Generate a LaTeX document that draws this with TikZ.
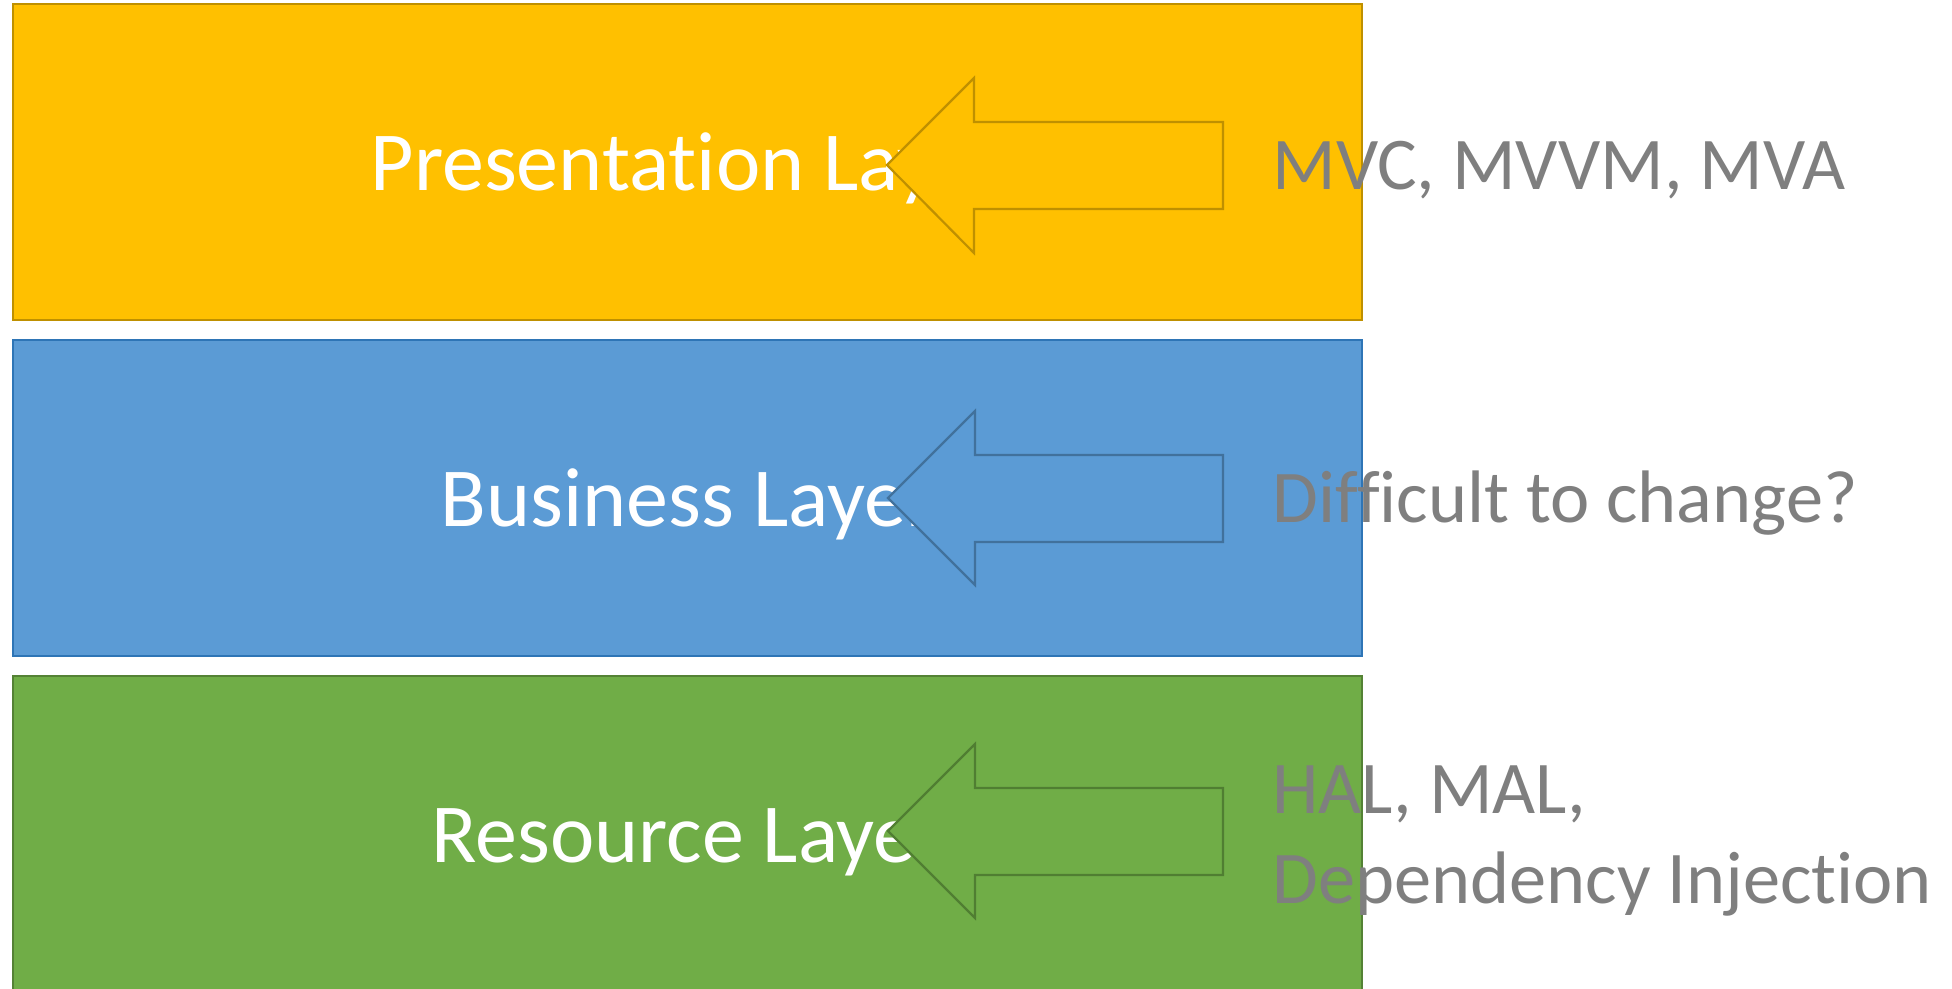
\documentclass[tikz,border=0pt]{standalone}
\usepackage{fontspec}
\setmainfont{Carlito}[Ligatures=NoCommon]
\definecolor{yfill}{HTML}{FFC000}
\definecolor{ydraw}{HTML}{BF9000}
\definecolor{bfill}{HTML}{5B9BD5}
\definecolor{bdraw}{HTML}{2E75B6}
\definecolor{barrow}{HTML}{41719C}
\definecolor{gfill}{HTML}{70AD47}
\definecolor{gdraw}{HTML}{548235}
\definecolor{garrow}{HTML}{507E32}
\definecolor{txtgray}{HTML}{7F7F7F}
\begin{document}
\begin{tikzpicture}[x=0.5pt,y=-0.5pt,
  layerbox/.style={line width=1.1pt},
  layertext/.style={anchor=base,inner sep=0pt,text=white,font=\fontsize{42}{50}\selectfont},
  sidetext/.style={anchor=base west,inner sep=0pt,text=txtgray,font=\fontsize{37.2}{45}\selectfont},
  blockarrow/.style={line width=1.1pt,line join=miter}]
\useasboundingbox (0,0) rectangle (1952,989);
% layers
\draw[layerbox,fill=yfill,draw=ydraw] (13,4) rectangle (1362,320);
\draw[layerbox,fill=bfill,draw=bdraw] (13,340) rectangle (1362,656);
\draw[layerbox,fill=gfill,draw=gdraw] (13,676) rectangle (1362,1000);
\node[layertext] (pres) at (688,191) {Presentation Layer};
\node[layertext] (bus) at (688,526) {Business Layer};
\node[layertext] (res) at (688,862) {Resource Layer};
% block arrows
\draw[blockarrow,fill=yfill,draw=ydraw] (887,165) -- (974,78) -- (974,122) -- (1223,122) -- (1223,209) -- (974,209) -- (974,253) -- cycle;
\draw[blockarrow,fill=bfill,draw=barrow] (888,498) -- (975,411) -- (975,455) -- (1223,455) -- (1223,542) -- (975,542) -- (975,585) -- cycle;
\draw[blockarrow,fill=gfill,draw=garrow] (888,831) -- (975,744) -- (975,788) -- (1223,788) -- (1223,875) -- (975,875) -- (975,918) -- cycle;
% side texts
\node[sidetext] (mvc) at (1272,190) {MVC, MVVM, MVA};
\node[sidetext] (diff) at (1272,522) {Difficult to change?};
\node[sidetext] (hal) at (1272,813) {HAL, MAL,};
\node[sidetext] (di) at (1272,903) {Dependency Injection};
\end{tikzpicture}
\end{document}
